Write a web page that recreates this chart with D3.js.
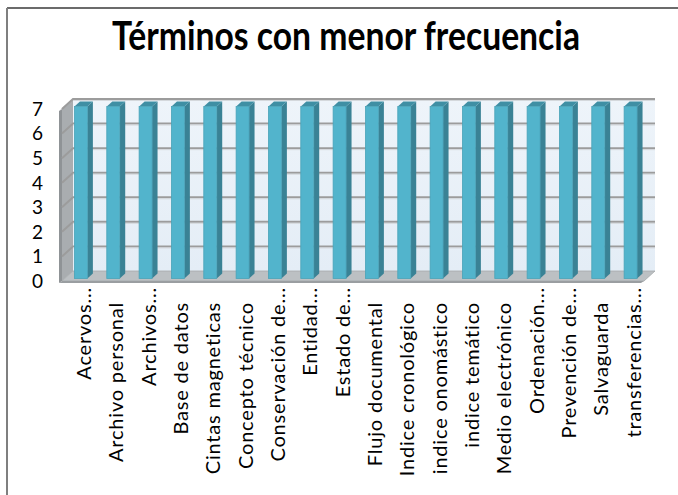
<!DOCTYPE html>
<html>
<head>
<meta charset="utf-8">
<script src="https://cdn.jsdelivr.net/npm/d3@7/dist/d3.min.js"></script>
<style>
  body { margin: 0; background: #fff; }
  text { font-family: Lato, "Noto Sans", sans-serif; }
</style>
</head>
<body>
<svg id="chart" width="678" height="495"></svg>
<script>

// DATA
// ========================================================================
var chart_title = "Términos con menor frecuencia";
var categories = ["Acervos...", "Archivo personal", "Archivos...", "Base de datos",
                  "Cintas magneticas", "Concepto técnico", "Conservación de...",
                  "Entidad...", "Estado de...", "Flujo documental", "Indice cronológico",
                  "indice onomástico", "indice temático", "Medio electrónico",
                  "Ordenación...", "Prevención de...", "Salvaguarda", "transferencias..."];
var values = [7, 7, 7, 7, 7, 7, 7, 7, 7, 7, 7, 7, 7, 7, 7, 7, 7, 7];
var y_ticks = [0, 1, 2, 3, 4, 5, 6, 7];
// ========================================================================

var DX = 11, DY = 10;          // depth offset of the 3d box
var svg = d3.select("#chart");

var x = d3.scaleBand().domain(categories).range([62, 644])
          .paddingInner(0.6).paddingOuter(0.3);
var y = d3.scaleLinear().domain([0, 7]).range([281, 109]);

// project (screen x on front plane, value, depth 0..1)
function P(px, v, z) { return [px + z * DX, y(v) - z * DY]; }
function poly(pts) { return pts.map(function(p) { return p.join(","); }).join(" "); }

var x0 = x.range()[0], x1 = x.range()[1];

// frame of the chart area
svg.append("line").attr("x1", 7).attr("y1", 8).attr("x2", 678).attr("y2", 8)
   .attr("stroke", "#3a3a3a").attr("stroke-width", 1.5);
svg.append("line").attr("x1", 7).attr("y1", 8).attr("x2", 7).attr("y2", 495)
   .attr("stroke", "#7f7f7f").attr("stroke-width", 2);

// Title
svg.append("text").attr("x", 346).attr("y", 50)
   .attr("text-anchor", "middle")
   .style("font-weight", "bold").style("font-size", "40px")
   .attr("textLength", 468).attr("lengthAdjust", "spacingAndGlyphs")
   .text(chart_title);

var defs = svg.append("defs");
var wall_grad = defs.append("linearGradient").attr("id", "wall_grad")
                    .attr("x1", 0).attr("y1", 0).attr("x2", 0).attr("y2", 1);
wall_grad.append("stop").attr("offset", "0%").attr("stop-color", "#eef4fa");
wall_grad.append("stop").attr("offset", "100%").attr("stop-color", "#e4edf6");

// back wall
svg.append("polygon")
   .attr("points", poly([P(x0, 0, 1), P(x1, 0, 1), P(x1, 7, 1), P(x0, 7, 1)]))
   .attr("fill", "url(#wall_grad)");

// left side wall (with a little thickness)
svg.append("polygon")
   .attr("points", poly([[x0 - 3, y(0) + 2], P(x0, 0, 0), P(x0, 7, 0), [x0 - 3, y(7) + 2]]))
   .attr("fill", "#8f9396");
svg.append("polygon")
   .attr("points", poly([P(x0, 0, 0), P(x0, 0, 1), P(x0, 7, 1), P(x0, 7, 0)]))
   .attr("fill", "#a9adb0");
svg.append("polygon")
   .attr("points", poly([[x0 - 3, y(7) + 2], P(x0, 7, 0), P(x0, 7, 1), [x0 - 3 + DX, y(7) + 2 - DY]]))
   .attr("fill", "#c4c7ca");

// grid lines on back wall and side wall
var grid = svg.append("g");
y_ticks.filter(function(d) { return d > 0; }).forEach(function(t) {
  var a = P(x0, t, 0), b = P(x0, t, 1), c = P(x1, t, 1);
  grid.append("polyline").attr("points", poly([a, b, c]))
      .attr("fill", "none").attr("stroke", "#9c9c9c").attr("stroke-width", 2);
  grid.append("polyline").attr("points", poly([[b[0], b[1] + 1.5], [c[0], c[1] + 1.5]]))
      .attr("fill", "none").attr("stroke", "#d4d8dc").attr("stroke-width", 1);
});

// floor slab
svg.append("polygon")
   .attr("points", poly([P(x0, 0, 0), P(x1, 0, 0), P(x1, 0, 1), P(x0, 0, 1)]))
   .attr("fill", "#bcc0c3").attr("stroke", "#a4a8ab").attr("stroke-width", 0.8);
svg.append("polygon")
   .attr("points", poly([[x0 - 3, y(0) + 2], [x1 - 3, y(0) + 2], P(x1, 0, 0), P(x0, 0, 0)]))
   .attr("fill", "#9a9ea1");

// bars
var bw = x.bandwidth();
var bars = svg.append("g").selectAll("g").data(categories).enter().append("g");

// side face
bars.append("polygon").attr("points", function(d, i) {
  var xr = x(d) + bw;
  return poly([P(xr, 0, 0.25), P(xr, 0, 0.75), P(xr, values[i], 0.75), P(xr, values[i], 0.25)]);
}).attr("fill", "#3a8295");

// top face
bars.append("polygon").attr("points", function(d, i) {
  var xl = x(d), xr = x(d) + bw;
  return poly([P(xl, values[i], 0.25), P(xr, values[i], 0.25), P(xr, values[i], 0.75), P(xl, values[i], 0.75)]);
}).attr("fill", "#3f8fa4");

// front face
bars.append("rect")
    .attr("x", function(d) { return P(x(d), 0, 0.25)[0]; })
    .attr("y", function(d, i) { return P(0, values[i], 0.25)[1]; })
    .attr("width", bw)
    .attr("height", function(d, i) { return y(0) - y(values[i]); })
    .attr("fill", "#52b4cc").attr("stroke", "#4aa3b9").attr("stroke-width", 0.8);

// y axis labels
svg.append("g").selectAll("text").data(y_ticks).enter().append("text")
   .attr("x", 43).attr("y", function(d) { return y(d); })
   .attr("dy", "0.36em").attr("text-anchor", "end")
   .style("font-size", "19px").style("fill", "#000")
   .text(function(d) { return d; });

// x axis labels, rotated
svg.append("g").selectAll("text").data(categories).enter().append("text")
   .attr("transform", function(d) {
     var cx = x(d) + bw / 2 + DX * 0.5;
     var top = d.slice(-3) == "..." ? 287 : 302;
     return "translate(" + cx + "," + top + ") rotate(-90)";
   })
   .attr("dy", "0.36em").attr("text-anchor", "end")
   .style("font-size", "20px").style("letter-spacing", "0.8px").style("fill", "#000")
   .text(function(d) { return d; });

</script>
</body>
</html>
